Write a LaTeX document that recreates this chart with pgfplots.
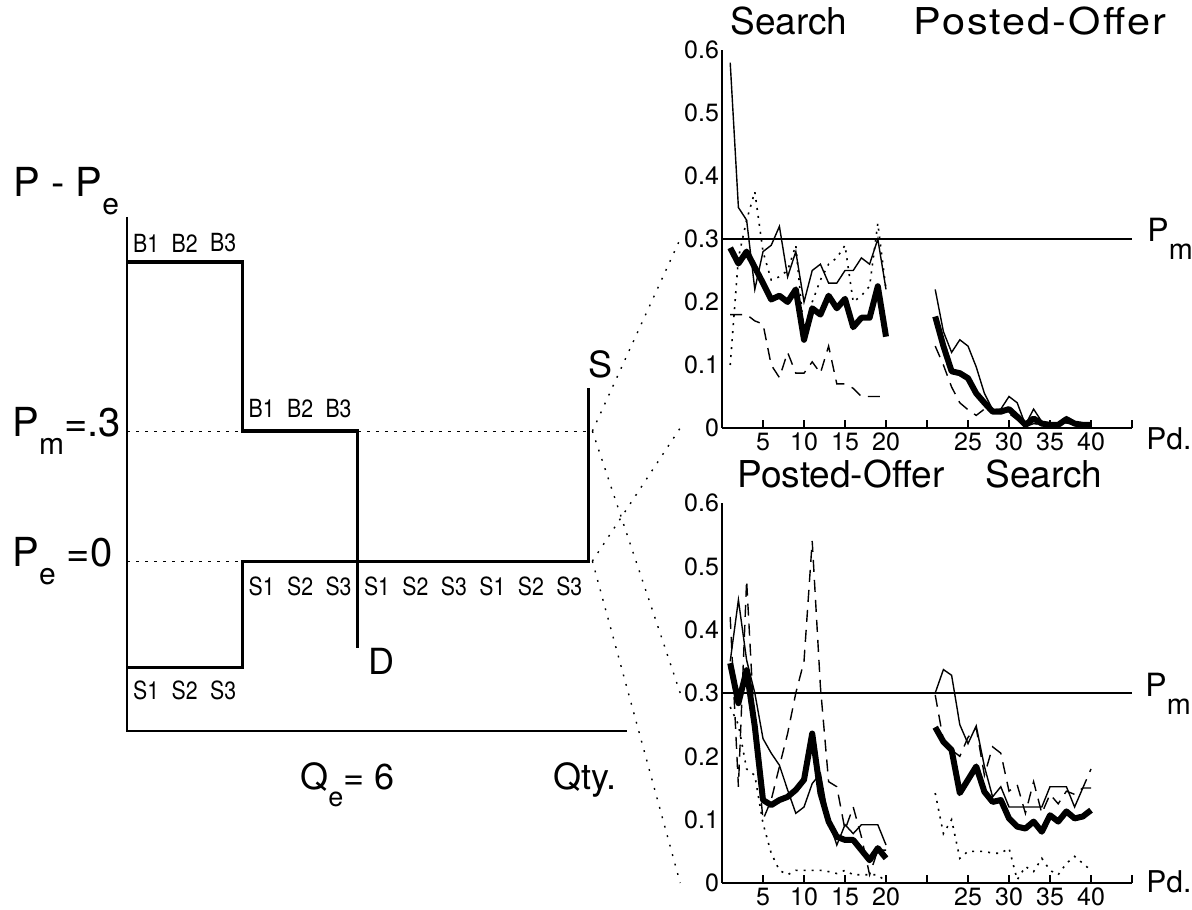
\documentclass[border=0pt]{standalone}
\usepackage{pgfplots}
\usepackage{pgfplotstable}
\pgfplotsset{compat=1.18}
\usepackage{fontspec}
\setmainfont{TeX Gyre Heros}
\newcommand{\lowsub}[1]{\raisebox{-0.45em}{\scalebox{0.75}{#1}}}
\newcommand{\bl}[1]{\scalebox{0.85}[1]{#1}}

% Top panel: Search (periods 1-20)
\pgfplotstableread{
pd thick thin dash dot
1  0.286 0.58 0.18  0.10
2  0.261 0.35 0.18  0.27
3  0.280 0.33 0.18  0.33
4  0.255 0.22 0.17  0.375
5  0.230 0.28 0.165 0.28
6  0.204 0.29 0.10  0.235
7  0.210 0.32 0.08  0.24
8  0.200 0.24 0.12  0.25
9  0.220 0.28 0.087 0.29
10 0.140 0.20 0.087 0.15
11 0.190 0.25 0.105 0.20
12 0.180 0.26 0.087 0.235
13 0.210 0.23 0.13  0.26
14 0.190 0.23 0.07  0.27
15 0.205 0.25 0.07  0.29
16 0.160 0.25 0.063 0.20
17 0.175 0.27 0.05  0.21
18 0.175 0.26 0.05  0.225
19 0.225 0.30 0.05  0.325
20 0.145 0.22 0.05  0.22
}\topA
% Top panel: Posted-Offer (periods 21-40)
\pgfplotstableread{
pd thick thin dash
21 0.177 0.220 0.130
22 0.130 0.153 0.100
23 0.090 0.120 0.065
24 0.087 0.140 0.040
25 0.079 0.130 0.029
26 0.055 0.097 0.020
27 0.040 0.055 0.030
28 0.026 0.029 0.026
29 0.026 0.030 0.023
30 0.030 0.050 0.023
31 0.018 0.040 0.013
32 0.005 0.005 0.002
33 0.015 0.030 0.007
34 0.007 0.010 0.005
35 0.005 0.005 0.005
36 0.005 0.007 0.005
37 0.014 0.018 0.008
38 0.007 0.010 0.005
39 0.005 0.007 0.005
40 0.005 0.007 0.005
}\topB
% Bottom panel: Posted-Offer (periods 1-20)
\pgfplotstableread{
pd thick thin dash dot
1  0.347 0.350 0.420 0.278
2  0.284 0.447 0.152 0.250
3  0.336 0.352 0.478 0.180
4  0.247 0.300 0.236 0.170
5  0.131 0.228 0.100 0.094
6  0.123 0.205 0.131 0.047
7  0.131 0.186 0.184 0.020
8  0.136 0.147 0.236 0.013
9  0.147 0.110 0.300 0.020
10 0.163 0.120 0.350 0.020
11 0.236 0.157 0.540 0.020
12 0.142 0.173 0.310 0.020
13 0.097 0.100 0.160 0.018
14 0.073 0.060 0.152 0.015
15 0.068 0.092 0.084 0.020
16 0.068 0.078 0.120 0.013
17 0.052 0.092 0.073 0.013
18 0.036 0.092 0.013 0.013
19 0.055 0.092 0.052 0.013
20 0.039 0.060 0.052 0.002
}\botA
% Bottom panel: Search (periods 21-40)
\pgfplotstableread{
pd thick thin dash dot
21 0.246 0.300 0.297 0.142
22 0.223 0.337 0.225 0.078
23 0.210 0.328 0.210 0.100
24 0.142 0.250 0.200 0.039
25 0.163 0.220 0.230 0.050
26 0.184 0.248 0.245 0.050
27 0.144 0.184 0.170 0.050
28 0.128 0.136 0.215 0.047
29 0.131 0.152 0.205 0.047
30 0.102 0.120 0.145 0.055
31 0.089 0.120 0.155 0.005
32 0.086 0.120 0.110 0.026
33 0.097 0.120 0.160 0.018
34 0.081 0.120 0.110 0.039
35 0.107 0.152 0.140 0.020
36 0.097 0.152 0.125 0.013
37 0.113 0.152 0.145 0.031
38 0.102 0.120 0.140 0.042
39 0.105 0.150 0.150 0.031
40 0.115 0.150 0.180 0.020
}\botB

\tikzset{lab/.style={font=\fontsize{12.5}{14}\selectfont}}
\pgfplotsset{
  panel/.style={
    scale only axis, anchor=south west,
    width=205pt,
    xmin=0, xmax=50, ymin=0, ymax=0.6,
    enlargelimits=false, clip=false,
    axis x line*=bottom, axis y line*=left,
    axis line style={-, line width=0.6pt},
    xtick={5,10,15,20,25,30,35,40,45,50},
    xticklabels={5,10,15,20,,25,30,35,40,},
    ytick={0,0.1,0.2,0.3,0.4,0.5,0.6},
    yticklabels={0,0.1,0.2,0.3,0.4,0.5,0.6},
    xtick align=inside,
    x tick style={line width=0.6pt, black},
    major tick length=4pt,
    y tick style={draw=none},
    yticklabel style={xshift=2pt},
    xticklabel style={yshift=1pt},
    tick label style={font=\fontsize{12.5}{14}\selectfont},
    /pgf/number format/assume math mode=true,
  },
  thickl/.style={black, line width=3pt, line join=round},
  thinl/.style={black, line width=0.7pt},
  dashl/.style={black, line width=0.7pt, dash pattern=on 6pt off 4pt},
  dotl/.style={black, line width=0.8pt, dash pattern=on 1pt off 3pt},
}

\begin{document}
\begin{tikzpicture}
\path[use as bounding box] (0,0) rectangle (596pt,454.5pt);

% ---------- left diagram ----------
\begin{axis}[
  scale only axis, anchor=south west, at={(63.5pt,89pt)},
  width=250pt, height=257pt,
  xmin=0, xmax=13, ymin=-0.392, ymax=0.794,
  hide axis, clip=false,
]
\addplot[black, line width=0.6pt] coordinates {(0,0.794) (0,-0.392) (13,-0.392)};
\addplot[black, line width=0.5pt, dash pattern=on 1.5pt off 3pt] coordinates {(0,0.3) (3,0.3)};
\addplot[black, line width=0.5pt, dash pattern=on 1.5pt off 3pt] coordinates {(6,0.3) (12,0.3)};
\addplot[black, line width=0.5pt, dash pattern=on 1.5pt off 3pt] coordinates {(0,0) (3,0)};
\addplot[black, line width=1.6pt] coordinates {(0,0.69) (3,0.69) (3,0.3) (6,0.3) (6,-0.2)};
\addplot[black, line width=1.6pt] coordinates {(0,-0.245) (3,-0.245) (3,0) (12,0) (12,0.4)};
\node[lab] at (axis cs:0.5,0.734) {\bl{B1}};
\node[lab] at (axis cs:1.5,0.734) {\bl{B2}};
\node[lab] at (axis cs:2.5,0.734) {\bl{B3}};
\node[lab] at (axis cs:3.5,0.353) {\bl{B1}};
\node[lab] at (axis cs:4.5,0.353) {\bl{B2}};
\node[lab] at (axis cs:5.5,0.353) {\bl{B3}};
\node[lab] at (axis cs:0.5,-0.298) {\bl{S1}};
\node[lab] at (axis cs:1.5,-0.298) {\bl{S2}};
\node[lab] at (axis cs:2.5,-0.298) {\bl{S3}};
\node[lab] at (axis cs:3.5,-0.058) {\bl{S1}};
\node[lab] at (axis cs:4.5,-0.058) {\bl{S2}};
\node[lab] at (axis cs:5.5,-0.058) {\bl{S3}};
\node[lab] at (axis cs:6.5,-0.058) {\bl{S1}};
\node[lab] at (axis cs:7.5,-0.058) {\bl{S2}};
\node[lab] at (axis cs:8.5,-0.058) {\bl{S3}};
\node[lab] at (axis cs:9.5,-0.058) {\bl{S1}};
\node[lab] at (axis cs:10.5,-0.058) {\bl{S2}};
\node[lab] at (axis cs:11.5,-0.058) {\bl{S3}};
\coordinate (Lpm) at (axis cs:12.1,0.3);
\coordinate (Lpe) at (axis cs:12.1,0);
\end{axis}

% ---------- top right panel ----------
\begin{axis}[panel, at={(361pt,240.5pt)}, height=189pt]
\addplot[thinl] coordinates {(0,0.3) (50,0.3)};
\addplot[dotl] table[x=pd, y=dot] {\topA};
\addplot[dashl] table[x=pd, y=dash] {\topA};
\addplot[thinl] table[x=pd, y=thin] {\topA};
\addplot[thickl] table[x=pd, y=thick] {\topA};
\addplot[dashl] table[x expr=\thisrow{pd}+5, y=dash] {\topB};
\addplot[thinl] table[x expr=\thisrow{pd}+5, y=thin] {\topB};
\addplot[thickl] table[x expr=\thisrow{pd}+5, y=thick] {\topB};
\coordinate (Tpm) at (axis cs:-5.1,0.3);
\coordinate (Tpe) at (axis cs:-5.1,0);
\end{axis}

% ---------- bottom right panel ----------
\begin{axis}[panel, at={(361pt,13pt)}, height=190pt]
\addplot[thinl] coordinates {(0,0.3) (50,0.3)};
\addplot[dotl] table[x=pd, y=dot] {\botA};
\addplot[dashl] table[x=pd, y=dash] {\botA};
\addplot[thinl] table[x=pd, y=thin] {\botA};
\addplot[thickl] table[x=pd, y=thick] {\botA};
\addplot[dotl] table[x expr=\thisrow{pd}+5, y=dot] {\botB};
\addplot[dashl] table[x expr=\thisrow{pd}+5, y=dash] {\botB};
\addplot[thinl] table[x expr=\thisrow{pd}+5, y=thin] {\botB};
\addplot[thickl] table[x expr=\thisrow{pd}+5, y=thick] {\botB};
\coordinate (Bpm) at (axis cs:-5.1,0.3);
\coordinate (Bpe) at (axis cs:-5.1,0);
\end{axis}

% connectors
\begin{scope}[black, line width=0.7pt, dash pattern=on 0.9pt off 4pt]
\draw (Lpm) -- (Tpm);
\draw (Lpm) -- (Bpm);
\draw (Lpe) -- (Tpe);
\draw (Lpe) -- (Bpe);
\end{scope}

% text labels
\node[anchor=base west, font=\fontsize{20}{22}\selectfont, inner sep=0pt] at (6.5pt,356pt) {P - P\lowsub{e}};
\node[anchor=base west, font=\fontsize{20}{22}\selectfont, inner sep=0pt] at (6pt,236pt) {P\lowsub{m}=.3};
\node[anchor=base west, font=\fontsize{20}{22}\selectfont, inner sep=0pt] at (6pt,171pt) {P\lowsub{e} =0};
\node[anchor=base west, font=\fontsize{18}{20}\selectfont, inner sep=0pt] at (150pt,59.5pt) {Q\lowsub{e}= 6};
\node[anchor=base west, font=\fontsize{18}{20}\selectfont, inner sep=0pt] at (276.5pt,59.5pt) {Qty.};
\node[anchor=base west, font=\fontsize{18}{20}\selectfont, inner sep=0pt] at (184pt,117pt) {D};
\node[anchor=base west, font=\fontsize{18}{20}\selectfont, inner sep=0pt] at (294pt,265.5pt) {S};

\node[anchor=base west, font=\fontsize{18.5}{20}\selectfont, inner sep=0pt] at (365pt,437pt) {Search};
\node[anchor=base west, font=\fontsize{18.5}{20}\selectfont, inner sep=0pt] at (456.5pt,437pt) {\scalebox{1.12}[1]{\addfontfeature{LetterSpace=5}Posted-Offer}};
\node[anchor=base west, font=\fontsize{18.5}{20}\selectfont, inner sep=0pt] at (368.5pt,210.5pt) {Posted-Offer};
\node[anchor=base west, font=\fontsize{18.5}{20}\selectfont, inner sep=0pt] at (492.5pt,210.5pt) {Search};

\node[anchor=base west, font=\fontsize{15}{17}\selectfont, inner sep=0pt] at (573pt,229.5pt) {Pd.};
\node[anchor=base west, font=\fontsize{15}{17}\selectfont, inner sep=0pt] at (573pt,8.5pt) {Pd.};
\node[anchor=base west, font=\fontsize{16}{18}\selectfont, inner sep=0pt] at (573.5pt,333.5pt) {P\raisebox{-0.55em}{\scalebox{0.9}{m}}};
\node[anchor=base west, font=\fontsize{16}{18}\selectfont, inner sep=0pt] at (572.5pt,106pt) {P\raisebox{-0.55em}{\scalebox{0.9}{m}}};
\end{tikzpicture}
\end{document}
